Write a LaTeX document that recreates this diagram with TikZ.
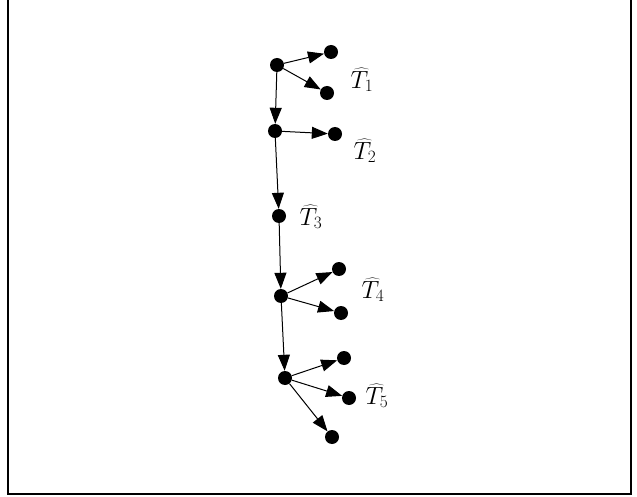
\documentclass[tikz,border=0pt]{standalone}
\usetikzlibrary{arrows.meta}

\begin{document}
\begin{tikzpicture}[
    x=1pt, y=-1pt,
    >={Triangle[length=16pt, width=12pt]}, % big filled arrow tips
    dot/.style={fill=black, circle, inner sep=0pt, minimum size=14pt}, % tree vertex
    tlab/.style={font=\fontsize{25}{30}\selectfont, inner sep=0pt} % labels of the subtrees
]
    \useasboundingbox (0, 0) rectangle (637, 497);

    % Frame
    \draw[line width=1.2pt] (8, -8) rectangle (631, 494);

    % Spine vertices
    \node[dot] (a1) at (277, 65) {};
    \node[dot] (a2) at (275, 131) {};
    \node[dot] (a3) at (279, 216) {};
    \node[dot] (a4) at (281, 296) {};
    \node[dot] (a5) at (285, 378) {};

    % Leaves
    \node[dot] (b11) at (331, 52) {};
    \node[dot] (b12) at (327, 93) {};
    \node[dot] (b21) at (335, 134) {};
    \node[dot] (b41) at (339, 269) {};
    \node[dot] (b42) at (341, 313) {};
    \node[dot] (b51) at (344, 358) {};
    \node[dot] (b52) at (349, 398) {};
    \node[dot] (b53) at (332, 437) {};

    \begin{scope}[line width=1pt]
    % Spine edges
    \draw[->] (a1) -- (a2);
    \draw[->] (a2) -- (a3);
    \draw[->] (a3) -- (a4);
    \draw[->] (a4) -- (a5);

    % Leaf edges
    \draw[->] (a1) -- (b11);
    \draw[->] (a1) -- (b12);
    \draw[->] (a2) -- (b21);
    \draw[->] (a4) -- (b41);
    \draw[->] (a4) -- (b42);
    \draw[->] (a5) -- (b51);
    \draw[->] (a5) -- (b52);
    \draw[->] (a5) -- (b53);
    \end{scope}

    % Labels
    \node[tlab] (t1) at (362, 80) {$\widehat{T}_1$};
    \node[tlab] (t2) at (365, 151) {$\widehat{T}_2$};
    \node[tlab] (t3) at (311, 217) {$\widehat{T}_3$};
    \node[tlab] (t4) at (373, 290) {$\widehat{T}_4$};
    \node[tlab] (t5) at (377, 396) {$\widehat{T}_5$};

\end{tikzpicture}
\end{document}
